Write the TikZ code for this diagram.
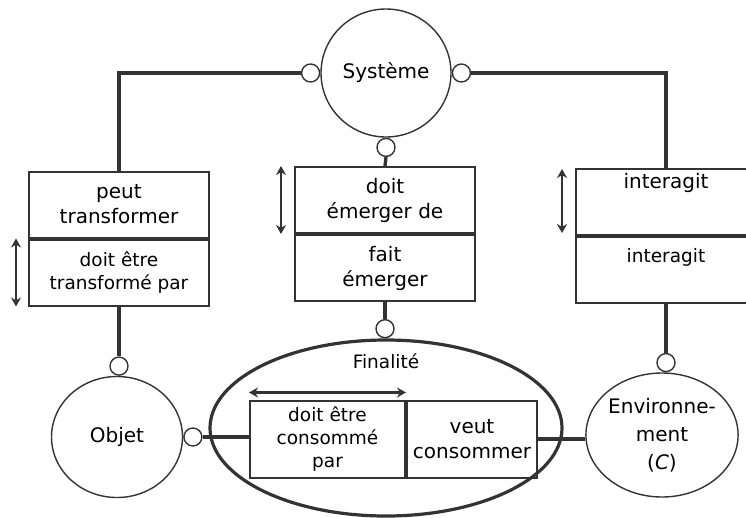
\documentclass[tikz,border=0pt]{standalone}
\usepackage{fontspec}
\setmainfont{DejaVu Sans}
\usetikzlibrary{shapes.geometric,arrows.meta,positioning}
\definecolor{trait}{HTML}{333333}
\tikzset{
  grand/.style = {font = \fontsize{20}{25}\selectfont},
  petit/.style = {font = \fontsize{18.5}{23}\selectfont},
  rond/.style = {draw = trait, ellipse, line width = 1.4pt, inner sep = 0pt, align = center, grand},
  knob/.style = {draw = trait, circle, line width = 1.4pt, minimum size = 18pt, inner sep = 0pt, fill = white},
  cell/.style = {draw = trait, rectangle, line width = 2pt, minimum width = 180pt, minimum height = 66pt, inner sep = 0pt, align = center},
  lien/.style = {draw = trait, line width = 3.3pt},
  fleche/.style = {draw = trait, line width = 2.8pt, {Stealth[length = 9pt, width = 10pt]}-{Stealth[length = 9pt, width = 10pt]}}
}
\begin{document}
\begin{tikzpicture}[x = 1pt, y = -1pt]
\useasboundingbox (0,0) rectangle (746,517);

\node[rond, minimum width = 130pt, minimum height = 128pt] (sys) at (386,73) {Système};
\node[knob, anchor = east] (sysL) at (sys.west) {};
\node[knob, anchor = west] (sysR) at (sys.east) {};
\node[knob, anchor = north] (sysB) at (sys.south) {};

\node[cell, grand] (lA) at (119,204.5) {peut\\transformer};
\node[cell, petit, anchor = north] (lB) at (lA.south) {doit être\\transformé par};
\draw[fleche] ([xshift = -12pt]lB.north west) -- ([xshift = -12pt]lB.south west);

\node[cell, grand] (mA) at (385,200) {doit\\émerger de};
\node[cell, grand, anchor = north] (mB) at (mA.south) {\\[-8pt]fait\\émerger};
\draw[fleche] ([xshift = -13pt]mA.north west) -- ([xshift = -13pt]mA.south west);

\node[cell, label = {[grand, anchor = north, yshift = -2pt]north:interagit}] (rA) at (666,202) {};
\node[cell, anchor = north, label = {[petit, anchor = north, yshift = -9pt]north:interagit}] (rB) at (rA.south) {};
\draw[fleche, shorten <= 1pt, shorten >= 3pt] ([xshift = -13pt]rA.north west) -- ([xshift = -13pt]rA.south west);

\draw[lien] (sysL.west) -| (lA.north);
\draw[lien] (sysR.east) -| (rA.north);
\draw[lien] (sysB.south) -- (mA.north);

\node[rond, line width = 3.2pt, minimum width = 352pt, minimum height = 176pt] (fin) at (386,428) {};
\node[petit, anchor = north] (finT) at ([yshift = -12pt]fin.north) {Finalité};
\node[knob, anchor = south] (finK) at (fin.north -| mB.south) {};
\node[cell, petit, minimum width = 155pt, minimum height = 77pt] (fA) at (327.5,439) {doit être\\consommé\\par};
\node[cell, grand, minimum width = 130pt, minimum height = 77pt, anchor = west] (fB) at (fA.east) {veut\\consommer};
\draw[fleche] ([yshift = 7pt]fA.north west) -- ([yshift = 7pt]fA.north east);
\draw[lien] (mB.south) -- (finK.north);

\node[rond, minimum width = 131pt, minimum height = 121pt] (obj) at (117,437) {Objet};
\node[knob, anchor = south] (objK) at (lB.south |- obj.north) {};
\node[knob, anchor = west] (objR) at (obj.east) {};
\draw[lien] (lB.south) -- (objK.north);
\draw[lien] (objR.east) -- (objR.east -| fA.west);

\node[rond, font = \fontsize{20}{28}\selectfont, minimum width = 132pt, minimum height = 124pt] (env) at (662,435) {Environne-\\ment\\(\textit{C})};
\node[knob, anchor = south] (envK) at (rB.south |- env.north) {};
\draw[lien] (rB.south) -- (envK.north);
\draw[lien] (fB.east) -- (fB.east -| env.west);
\end{tikzpicture}
\end{document}
